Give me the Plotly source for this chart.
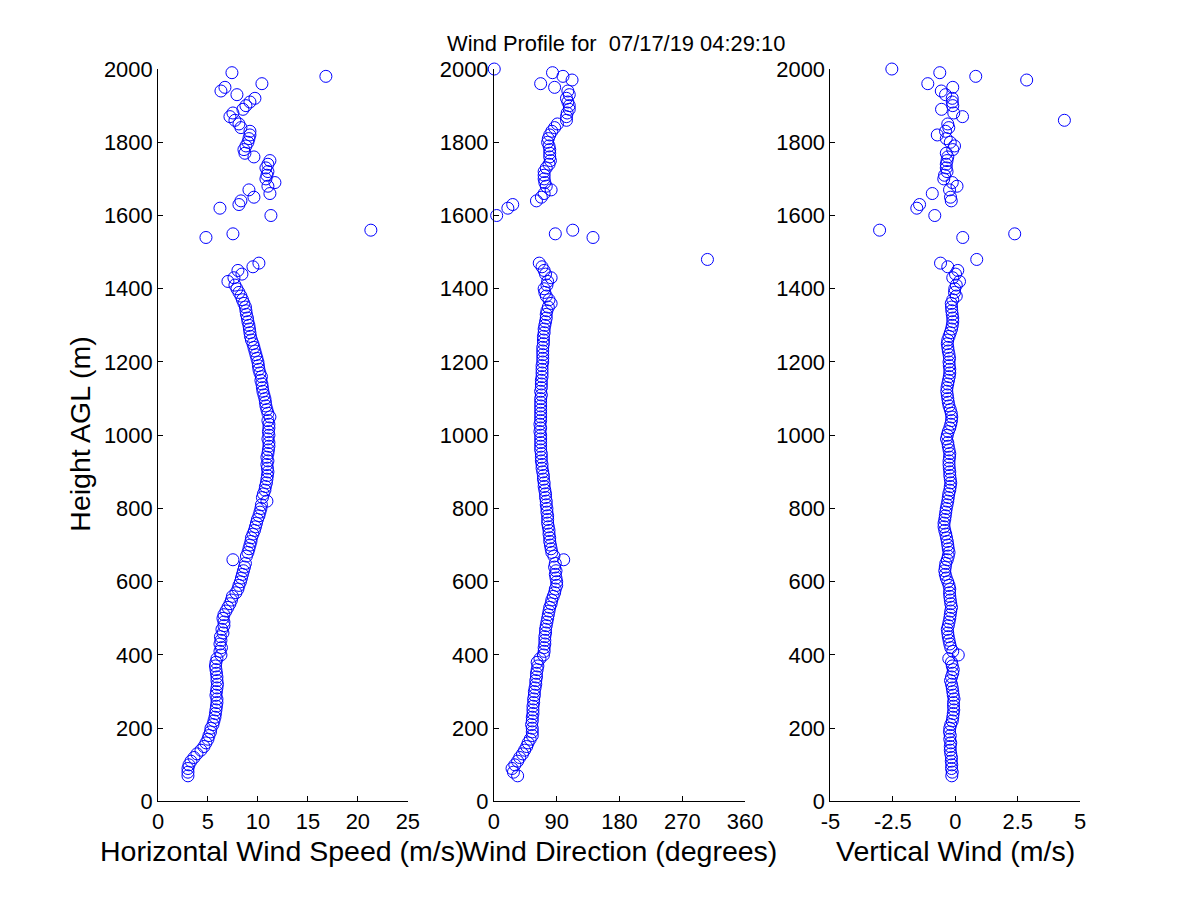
import plotly.graph_objects as go

# heights above ground (m), one lidar gate every 10 m
height = [
    70, 80, 90, 100, 110, 120, 130, 140, 150, 160,
    170, 180, 190, 200, 210, 220, 230, 240, 250, 260,
    270, 280, 290, 300, 310, 320, 330, 340, 350, 360,
    370, 380, 390, 400, 410, 420, 430, 440, 450, 460,
    470, 480, 490, 500, 510, 520, 530, 540, 550, 560,
    570, 580, 590, 600, 610, 620, 630, 640, 650, 660,
    670, 680, 690, 700, 710, 720, 730, 740, 750, 760,
    770, 780, 790, 800, 810, 820, 830, 840, 850, 860,
    870, 880, 890, 900, 910, 920, 930, 940, 950, 960,
    970, 980, 990, 1000, 1010, 1020, 1030, 1040, 1050, 1060,
    1070, 1080, 1090, 1100, 1110, 1120, 1130, 1140, 1150, 1160,
    1170, 1180, 1190, 1200, 1210, 1220, 1230, 1240, 1250, 1260,
    1270, 1280, 1290, 1300, 1310, 1320, 1330, 1340, 1350, 1360,
    1370, 1380, 1390, 1400, 1410, 1420, 1430, 1440, 1450, 1460,
    1470, 1480, 1490, 1500, 1510, 1520, 1530, 1540, 1550, 1560,
    1570, 1580, 1590, 1600, 1610, 1620, 1630, 1640, 1650, 1660,
    1670, 1680, 1690, 1700, 1710, 1720, 1730, 1740, 1750, 1760,
    1770, 1780, 1790, 1800, 1810, 1820, 1830, 1840, 1850, 1860,
    1870, 1880, 1890, 1900, 1910, 1920, 1930, 1940, 1950, 1960,
    1970, 1980, 1990, 2000,
]

# horizontal wind speed (m/s), None = no valid retrieval
speed = [
    3.0, 3.0, 3.0, 3.1, 3.3, 3.6, 3.9, 4.3, 4.6, 4.8,
    5.0, 5.1, 5.25, 5.3, 5.5, 5.6, 5.7, 5.75, 5.8, 5.85,
    5.9, 5.9, 5.8, 5.85, 5.9, 5.95, 5.9, 5.9, 5.85, 5.8,
    5.75, 5.8, 5.9, 6.3, 6.2, 6.35, 6.2, 6.3, 6.25, 6.5,
    6.4, 6.6, 6.6, 6.5, 6.6, 6.8, 7.0, 7.2, 7.35, 7.45,
    7.8, 8.0, 8.1, 8.25, 8.35, 8.45, 8.55, 8.65, 8.75, 7.5,
    8.85, 9.0, 9.1, 9.2, 9.3, 9.35, 9.5, 9.65, 9.75, 9.85,
    9.95, 10.1, 10.2, 10.3, 10.35, 10.9, 10.45, 10.55, 10.7, 10.75,
    10.85, 10.9, 10.95, 11.0, 10.95, 10.9, 11.0, 10.9, 11.0, 11.05,
    11.1, 11.1, 11.0, 11.1, 11.05, 11.1, 11.1, 11.0, 11.2, 11.0,
    10.9, 10.8, 10.75, 10.7, 10.6, 10.5, 10.45, 10.4, 10.3, 10.35,
    10.2, 10.1, 10.05, 10.0, 9.9, 9.8, 9.7, 9.6, 9.5, 9.35,
    9.25, 9.2, 9.15, 9.1, 9.0, 8.95, 8.85, 8.8, 8.75, 8.6,
    8.45, 8.3, 8.1, 7.9, 7.7, 7.0, 7.6, 8.4, 8.0, 9.5,
    10.1, None, None, None, None, None, None, 4.8, 7.5, 21.3,
    None, None, None, 11.3, None, 6.2, 8.1, 8.3, 9.6, 11.2,
    9.1, 11.0, 11.7, 10.8, 10.9, 11.0, 10.8, 11.0, 11.2, 9.6,
    8.7, 8.6, 8.8, 9.0, 9.1, 9.2, 9.2, 8.3, 8.1, 7.7,
    7.2, 7.5, 8.5, 8.8, 9.2, 9.7, 7.9, 6.3, 6.7, 10.4,
    None, 16.8, 7.4, None,
]

# wind direction (degrees)
direction = [
    34, 28, 26, 30, 34, 37, 41, 44, 47, 49,
    52, 55, 55, 55, 54, 55, 55, 56, 56, 56,
    57, 57, 58, 58, 59, 60, 60, 61, 61, 62,
    63, 62, 66, 71, 72, 72, 73, 73, 73, 74,
    74, 75, 76, 77, 78, 79, 80, 82, 83, 85,
    87, 88, 90, 90, 89, 88, 89, 87, 88, 100,
    86, 83, 82, 81, 80, 80, 79, 79, 78, 77,
    77, 77, 76, 76, 75, 75, 74, 74, 73, 72,
    72, 71, 71, 70, 69, 69, 68, 68, 68, 67,
    67, 67, 67, 67, 66, 67, 66, 67, 67, 67,
    67, 67, 67, 67, 68, 67, 68, 68, 68, 69,
    69, 69, 69, 70, 70, 70, 70, 70, 71, 71,
    71, 72, 72, 73, 74, 75, 75, 76, 78, 82,
    79, 75, 73, 72, 76, 77, 82, 74, 72, 69,
    65, 306, None, None, None, None, None, 142, 88, 113,
    None, None, None, 4, None, 20, 27, 61, 68, 72,
    82, 75, 73, 72, 72, 72, 75, 79, 81, 80,
    80, 80, 79, 77, 78, 80, 83, 87, 91, 104,
    104, 105, 108, 108, 106, 104, 108, 106, 87, 67,
    112, 99, 84, 0.5,
]

# vertical wind (m/s)
vertical = [
    -0.14, -0.12, -0.15, -0.14, -0.16, -0.15, -0.18, -0.2, -0.2, -0.18,
    -0.22, -0.2, -0.23, -0.22, -0.18, -0.12, -0.1, -0.08, -0.06, -0.07,
    -0.07, -0.05, -0.08, -0.1, -0.12, -0.15, -0.19, -0.15, -0.1, -0.08,
    -0.12, -0.15, -0.26, 0.12, -0.1, -0.18, -0.22, -0.25, -0.28, -0.3,
    -0.32, -0.28, -0.25, -0.22, -0.2, -0.18, -0.15, -0.18, -0.2, -0.22,
    -0.23, -0.22, -0.25, -0.3, -0.36, -0.4, -0.42, -0.4, -0.38, -0.32,
    -0.28, -0.25, -0.28, -0.3, -0.32, -0.35, -0.38, -0.42, -0.45, -0.45,
    -0.42, -0.4, -0.38, -0.36, -0.33, -0.3, -0.28, -0.26, -0.22, -0.2,
    -0.18, -0.2, -0.22, -0.22, -0.24, -0.25, -0.25, -0.23, -0.22, -0.25,
    -0.28, -0.3, -0.35, -0.32, -0.28, -0.22, -0.18, -0.15, -0.14, -0.16,
    -0.2, -0.25, -0.28, -0.3, -0.32, -0.34, -0.33, -0.3, -0.27, -0.24,
    -0.22, -0.22, -0.24, -0.25, -0.23, -0.25, -0.28, -0.3, -0.32, -0.3,
    -0.25, -0.2, -0.15, -0.12, -0.1, -0.1, -0.12, -0.14, -0.15, -0.16,
    -0.1, 0.04, -0.03, -0.02, 0.04, 0.17, -0.1, 0.01, 0.1, -0.3,
    -0.59, 0.86, None, None, None, None, None, 0.3, 2.38, -3.03,
    None, None, None, -0.82, None, -1.54, -1.43, -0.16, -0.19, -0.92,
    -0.23, 0.07, -0.12, -0.46, -0.43, -0.33, -0.36, -0.36, -0.33, -0.3,
    -0.36, -0.1, -0.03, -0.2, -0.36, -0.72, -0.39, -0.26, -0.3, 4.37,
    0.29, -0.06, -0.55, -0.1, -0.12, -0.12, -0.39, -0.56, -0.1, -1.1,
    2.86, 0.82, -0.62, -2.54,
]

title_text = "Wind Profile for  07/17/19 04:29:10"
panel_titles = ["Horizontal Wind Speed (m/s)", "Wind Direction (degrees)", "Vertical Wind (m/s)"]
speed_ticks = [0, 5, 10, 15, 20, 25]
dir_ticks = [0, 90, 180, 270, 360]
vert_ticks = [-5, -2.5, 0, 2.5, 5]
vert_ticklabels = ["-5", "-2.5", "0", "2.5", "5"]
height_ticks = [0, 200, 400, 600, 800, 1000, 1200, 1400, 1600, 1800, 2000]

W, H = 1200, 900
# the page shows the figure slightly shrunk and shifted; measured from earlier renders
OFF, SCL = 16.0, 0.9816
# panel edges in screen pixels (matlab-ish layout), nudged after checking the render
x_edges = [(156.7, 407.8), (494.3, 746.8), (832.5, 1083.5)]
y_top, y_bot = 65.5, 805.0
font = "Liberation Sans, Arial, sans-serif"


def px(x):
    return (x - OFF) / SCL / W


def py(y):
    return 1 - (y - OFF) / SCL / H


def fs(size):
    return size / SCL


fig = go.Figure()
series = [speed, direction, vertical]
for i, vals in enumerate(series):
    sfx = "" if i == 0 else str(i + 1)
    fig.add_trace(go.Scatter(
        x=vals, y=height, mode="markers",
        marker=dict(symbol="circle-open", size=fs(11.8), color="#0000ff",
                    line=dict(width=1, color="#0000ff")),
        xaxis="x" + sfx, yaxis="y" + sfx,
        cliponaxis=False, showlegend=False,
    ))

axis_common = dict(
    showgrid=False, zeroline=False, showline=True, linecolor="black", linewidth=1,
    ticks="inside", ticklen=fs(5), tickcolor="black", tickwidth=1,
    tickfont=dict(family=font, size=fs(21.5), color="black"),
)

ranges = [(0, 25), (0, 360), (-5, 5)]
tickvals = [speed_ticks, dir_ticks, vert_ticks]
ticktexts = [[str(t) for t in speed_ticks], [str(t) for t in dir_ticks], vert_ticklabels]

layout_axes = {}
for i in range(3):
    sfx = "" if i == 0 else str(i + 1)
    x0, x1 = x_edges[i]
    layout_axes["xaxis" + sfx] = dict(
        axis_common, domain=[px(x0), px(x1)], range=list(ranges[i]),
        tickmode="array", tickvals=tickvals[i], ticktext=ticktexts[i],
        anchor="y" + sfx,
    )
    layout_axes["yaxis" + sfx] = dict(
        axis_common, domain=[py(y_bot), py(y_top)], range=[0, 2000],
        tickmode="array", tickvals=height_ticks, anchor="x" + sfx,
    )

annotations = [dict(
    text=title_text, x=px(617.5), y=py(40), xref="paper", yref="paper",
    showarrow=False, font=dict(family=font, size=fs(21.5), color="black"),
    xanchor="center", yanchor="middle",
)]
for i in range(3):
    x0, x1 = x_edges[i]
    annotations.append(dict(
        text=panel_titles[i], x=px((x0 + x1) / 2), y=py(855),
        xref="paper", yref="paper", showarrow=False,
        font=dict(family=font, size=fs(28), color="black"),
        xanchor="center", yanchor="middle",
    ))
annotations.append(dict(
    text="Height AGL (m)", x=px(78), y=py(434), xref="paper", yref="paper",
    showarrow=False, textangle=-90, font=dict(family=font, size=fs(28), color="black"),
    xanchor="center", yanchor="middle",
))

fig.update_layout(
    width=W, height=H,
    margin=dict(l=0, r=0, t=0, b=0),
    paper_bgcolor="white", plot_bgcolor="white",
    annotations=annotations,
    **layout_axes,
)

fig.write_html("out.html")
